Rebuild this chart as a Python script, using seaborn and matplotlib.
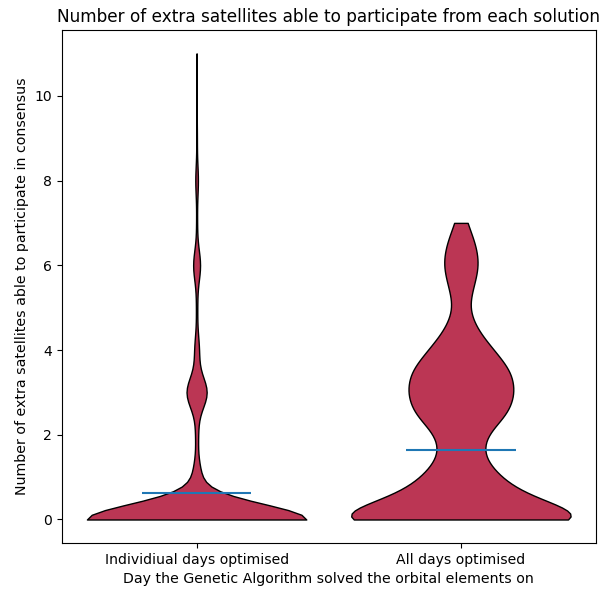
import numpy as np
import pandas as pd
import matplotlib
matplotlib.use("Agg")
import matplotlib.pyplot as plt
import seaborn as sns

# Solution groups shown on the x axis
groups = ["Individiual days optimised", "All days optimised"]

# Extra satellites per solution (value -> how many solutions reached it)
individual_values = [0, 1, 2, 3, 4, 5, 6, 7, 8, 9, 10, 11]
individual_counts = [1536, 54, 18, 140, 31, 8, 48, 6, 18, 4, 2, 1]

# All-days solutions are averaged over the days, so half values occur
all_days_values = [0, 0.5, 1, 1.5, 2, 2.5, 3, 3.5, 4, 4.5, 5, 5.5, 6, 6.5, 7]
all_days_counts = [1600, 649, 384, 201, 232, 479, 534, 507, 322, 150,
                   64, 124, 185, 148, 60]

# Mean number of extra satellites for each group
mean_values = [0.62, 1.63]

df = pd.concat([
    pd.DataFrame({"group": groups[0],
                  "extra": np.repeat(individual_values, individual_counts)}),
    pd.DataFrame({"group": groups[1],
                  "extra": np.repeat(all_days_values, all_days_counts)}),
], ignore_index=True)

fig, ax = plt.subplots(figsize=(6.06, 5.9), dpi=100)
fig.subplots_adjust(left=0.102, right=0.983, bottom=0.080, top=0.949)

violin_width = 0.83
sns.violinplot(
    data=df, x="group", y="extra", order=groups,
    cut=0, inner=None, density_norm="width", width=violin_width,
    bw_method="scott", color="#bb3654", saturation=1,
    linecolor="black", linewidth=1.0, ax=ax,
)

# Mean markers spanning half of each violin's width
positions = np.arange(len(groups))
half = violin_width / 4
ax.hlines(mean_values, positions - half, positions + half,
          colors="#1f77b4", linewidth=1.5, zorder=3)
ax.set_xlim(-0.51, len(groups) - 0.49)

ax.set_title("Number of extra satellites able to participate from each solution",
             fontsize=12.2)
ax.set_xlabel("Day the Genetic Algorithm solved the orbital elements on",
              fontsize=10.2)
ax.set_ylabel("Number of extra satellites able to participate in consensus",
              fontsize=10.2)
ax.tick_params(labelsize=10.1)

fig.savefig("out.png", dpi=100)
